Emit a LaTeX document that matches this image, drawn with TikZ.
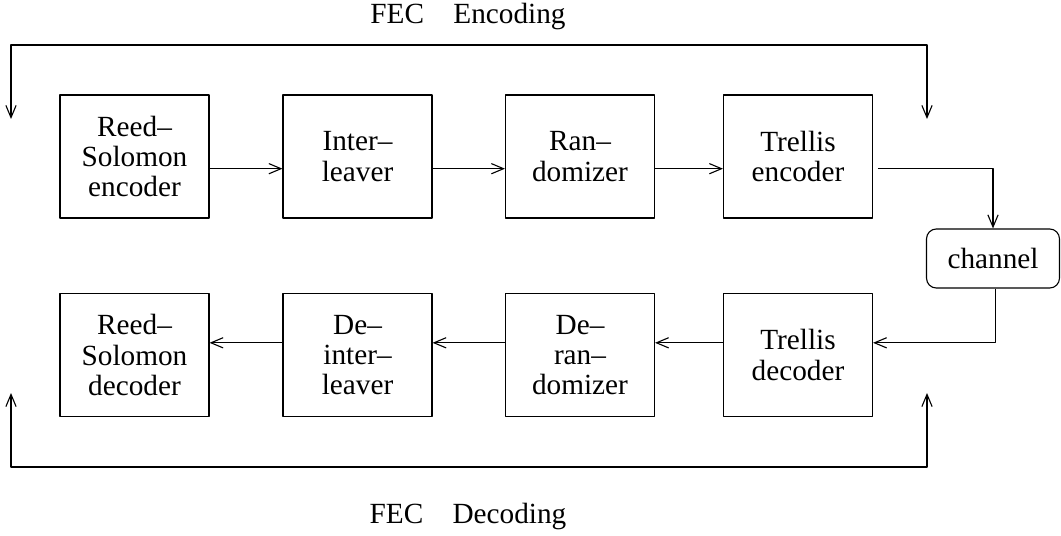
\documentclass[tikz,border=0pt]{standalone}
\usepackage{fontspec}
\setmainfont{Liberation Serif}
\usetikzlibrary{arrows.meta}
\begin{document}
\begin{tikzpicture}[x=0.41pt,y=-0.41pt,line join=round,>={Straight Barb[length=5pt,width=4.2pt]},
  font=\fontsize{12}{12.4}\selectfont,
  blk/.style={draw,line width=0.45pt,minimum width=61.1pt,minimum height=50.4pt,align=center,inner sep=1pt},
  chan/.style={draw,line width=0.45pt,rounded corners=4pt,minimum width=54.5pt,minimum height=24.2pt},
  link/.style={->,line width=0.45pt}]
	\useasboundingbox (0,0) rectangle (1061,536);

	% Encoder chain
	\node[blk] (rsenc) at (134.5,156.5) {Reed--\\Solomon\\encoder};
	\node[blk] (ilv)   at (357.5,156.5) {Inter--\\leaver};
	\node[blk] (rnd)   at (580,156.5)   {Ran--\\domizer};
	\node[blk] (tenc)  at (798,156.5)   {Trellis\\encoder};

	% Channel
	\node[chan] (chan) at (993,258.5) {channel};

	% Decoder chain
	\node[blk] (rsdec) at (134.5,355) {Reed--\\Solomon\\decoder};
	\node[blk] (dilv)  at (357.5,355) {De--\\inter--\\leaver};
	\node[blk] (drnd)  at (580,355)   {De--\\ran--\\domizer};
	\node[blk] (tdec)  at (798,355)   {Trellis\\decoder};

	% Arrows
	\draw[link] ([yshift=-5pt]rsenc.east) -- ([yshift=-5pt]ilv.west);
	\draw[link] ([yshift=-5pt]ilv.east) -- ([yshift=-5pt]rnd.west);
	\draw[link] ([yshift=-5pt]rnd.east) -- ([yshift=-5pt]tenc.west);
	\draw[link] ([xshift=2pt,yshift=-5pt]tenc.east) -| (chan.north);
	\draw[link] ([xshift=1.2pt]chan.south) |- ([yshift=5pt]tdec.east);
	\draw[link] ([yshift=5pt]tdec.west) -- ([yshift=5pt]drnd.east);
	\draw[link] ([yshift=5pt]drnd.west) -- ([yshift=5pt]dilv.east);
	\draw[link] ([yshift=5pt]dilv.west) -- ([yshift=5pt]rsdec.east);

	% Brackets
	\coordinate (encL) at (11,119);
	\coordinate (encR) at (927,119);
	\coordinate (decL) at (11,393);
	\coordinate (decR) at (927,393);
	\draw[<->,line width=0.45pt] (encR) -- ++(0,-74) -| (encL);
	\draw[<->,line width=0.45pt] (decL) -- ++(0,74) -| (decR);

	% Labels
	\node (enclbl) at (468,17)  {FEC\quad Encoding};
	\node (declbl) at (468,517) {FEC\quad Decoding};
\end{tikzpicture}
\end{document}
